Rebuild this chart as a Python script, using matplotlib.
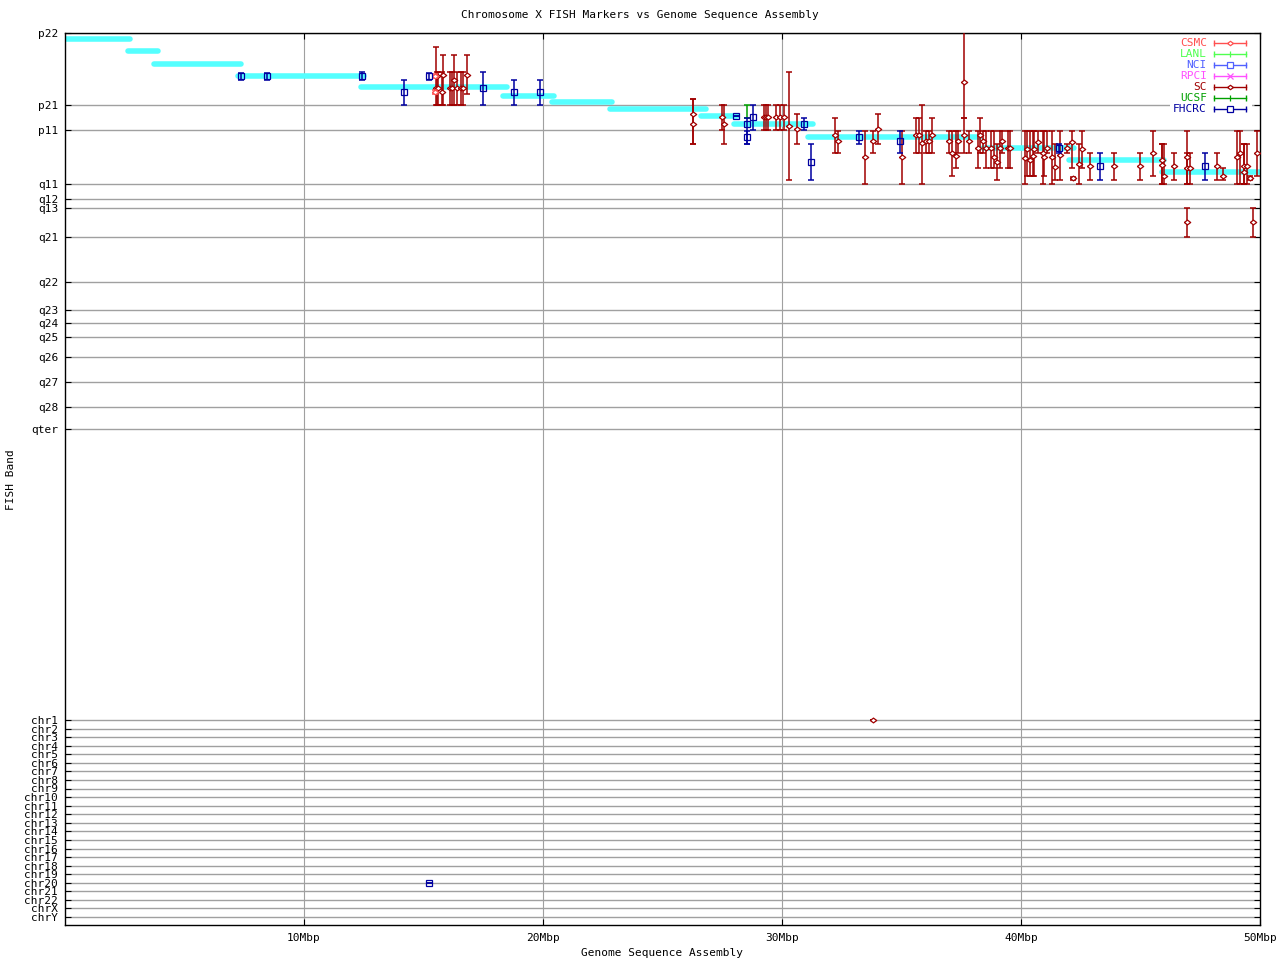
import matplotlib
matplotlib.use('Agg')
import matplotlib.pyplot as plt
from matplotlib.patches import Rectangle

# --- band axis (position along chromosome, p22 at top) ---
band_labels = ['p22', 'p21', 'p11', 'q11', 'q12', 'q13', 'q21', 'q22', 'q23',
               'q24', 'q25', 'q26', 'q27', 'q28', 'qter']
band_pos = [0, 72, 97, 151, 166, 175, 204, 249, 277, 290, 304, 324, 349, 374, 396]

chr_labels = ['chr1', 'chr2', 'chr3', 'chr4', 'chr5', 'chr6', 'chr7', 'chr8',
              'chr9', 'chr10', 'chr11', 'chr12', 'chr13', 'chr14', 'chr15',
              'chr16', 'chr17', 'chr18', 'chr19', 'chr20', 'chr21', 'chr22',
              'chrX', 'chrY']
chr_pos = [687.0, 695.6, 704.1, 712.7, 721.3, 729.8, 738.4, 747.0, 755.5, 764.1,
           772.7, 781.2, 789.8, 798.3, 806.9, 815.5, 824.0, 832.6, 841.2, 849.7,
           858.3, 866.9, 875.4, 884.0]

# --- assembly contigs (cyan) ---
seg_start = [0.0, 2.64, 3.72, 7.24, 12.4, 18.33, 20.36, 22.8, 26.6, 28.0, 31.1, 38.4, 42.0, 45.9]
seg_end = [2.72, 3.89, 7.36, 12.5, 18.48, 20.46, 22.9, 26.8, 28.1, 31.3, 38.3, 42.2, 46.0, 50.0]
seg_y = [6, 18, 31, 43, 54, 63, 69, 76, 83, 91, 104, 115, 127, 139]

# --- SC markers ---
sc_x = [15.52, 15.56, 15.61, 15.77, 15.82, 16.11, 16.19, 16.28, 16.40, 16.57, 16.65, 16.82,
        26.28, 26.28, 27.49, 27.57, 29.25, 29.33, 29.41, 29.75, 29.92, 30.08, 30.29, 30.63,
        32.22, 32.34, 33.47, 33.81, 34.02, 35.02, 35.61, 35.73, 35.86, 36.03, 36.15, 36.28,
        36.99, 37.11, 37.28, 37.36, 37.62, 37.62, 37.82, 38.20, 38.28, 38.41, 38.54, 38.74,
        38.87, 39.00, 39.12, 39.21, 39.46, 39.54, 40.17, 40.25, 40.38, 40.50, 40.54, 40.71,
        40.92, 40.96, 41.09, 41.30, 41.42, 41.63, 41.92, 42.13, 42.18, 42.43, 42.55, 42.89,
        43.89, 44.98, 45.52, 45.90, 45.90, 45.98, 46.40, 46.95, 46.95, 47.07, 48.20, 48.45,
        49.04, 49.16, 49.33, 49.33, 49.46, 49.58, 49.87, 46.95, 49.71, 33.81]
sc_y = [55, 43, 55, 59, 42, 55, 55, 47, 55, 55, 55, 42,
        81, 91, 84, 91, 84, 84, 84, 84, 84, 84, 93, 96,
        102, 108, 124, 108, 96, 124, 102, 102, 110, 108, 108, 102,
        108, 120, 123, 108, 49, 102, 108, 115, 102, 108, 115, 115,
        124, 129, 115, 108, 115, 115, 125, 116, 127, 123, 116, 109,
        120, 124, 115, 124, 134, 122, 115, 109, 145, 131, 116, 133,
        133, 133, 120, 127, 132, 143, 133, 124, 135, 135, 133, 143,
        124, 120, 133, 139, 133, 145, 120, 189, 189, 687]
sc_top = [14, 39, 39, 39, 22, 39, 39, 22, 39, 39, 39, 22,
          66, 66, 72, 72, 72, 72, 72, 72, 72, 72, 39, 81,
          85, 98, 98, 98, 81, 98, 85, 85, 72, 98, 98, 85,
          98, 98, 98, 98, -5, 85, 98, 98, 85, 98, 98, 98,
          98, 111, 98, 98, 98, 98, 98, 98, 98, 98, 98, 98,
          98, 98, 98, 98, 111, 98, 111, 98, 144, 111, 98, 120,
          120, 120, 98, 111, 111, 111, 120, 98, 120, 120, 120, 135,
          98, 98, 111, 111, 111, 143, 98, 175, 175, 687]
sc_bot = [72, 72, 72, 72, 72, 72, 72, 72, 72, 72, 72, 61,
          111, 111, 97, 111, 97, 97, 97, 97, 97, 97, 147, 111,
          120, 120, 151, 120, 111, 151, 120, 120, 151, 120, 120, 120,
          120, 143, 135, 120, 85, 120, 120, 135, 120, 120, 135, 135,
          135, 147, 135, 120, 135, 135, 151, 143, 143, 143, 143, 120,
          151, 143, 120, 151, 147, 147, 120, 135, 147, 151, 135, 147,
          147, 147, 143, 151, 151, 151, 147, 151, 151, 151, 147, 147,
          151, 151, 151, 151, 151, 147, 143, 204, 204, 687]

# --- FHCRC markers ---
fh_x = [7.36, 8.45, 12.43, 14.18, 15.23, 17.49, 18.79, 19.87, 28.08, 28.54, 28.54,
        28.79, 30.92, 31.21, 33.22, 34.94, 41.59, 43.31, 47.70, 15.23]
fh_y = [43, 43, 43, 59, 43, 55, 59, 59, 83, 91, 104,
        84, 91, 129, 104, 108, 115, 133, 133, 849.7]
fh_top = [40, 40, 39, 47, 40, 39, 47, 47, 83, 85, 98,
          72, 85, 111, 98, 98, 111, 120, 120, 849.7]
fh_bot = [47, 47, 47, 72, 47, 72, 72, 72, 83, 111, 111,
          97, 97, 147, 111, 120, 120, 147, 147, 849.7]

# --- CSMC and UCSF markers ---
cs_x = [15.48, 15.48]
cs_y = [43, 59]
cs_top = [41, 57]
cs_bot = [45, 61]

uc_x = [28.54]
uc_y = [79]
uc_top = [72]
uc_bot = [85]

# legend entries: name, colour, marker
leg_names = ['CSMC', 'LANL', 'NCI', 'RPCI', 'SC', 'UCSF', 'FHCRC']
leg_colors = ['#ff5050', '#50ff50', '#5060ff', '#ff50ff', '#a00000', '#00a000', '#0000a0']

# flat diamond like the gnuplot point
diam = [(-1, 0), (0, 0.75), (1, 0), (0, -0.75), (-1, 0)]
leg_markers = [diam, '|', 's', 'x', diam, '|', 's']

plt.rcParams['font.family'] = 'DejaVu Sans Mono'
plt.rcParams['font.size'] = 8

fig = plt.figure(figsize=(12.8, 9.6), dpi=100)
ax = fig.add_axes([65 / 1280, 35 / 960, 1195 / 1280, 892 / 960])
ax.set_xlim(0, 50)
ax.set_ylim(892, 0)

grid_c = '#a0a0a0'
for p in band_pos + chr_pos:
    ax.axhline(p, color=grid_c, lw=1.0, zorder=0)
for xv in [10, 20, 30, 40]:
    ax.axvline(xv, color=grid_c, lw=0.8, zorder=0)

# contigs
for s, e, yv in zip(seg_start, seg_end, seg_y):
    ax.plot([s, e], [yv, yv], color='#55ffff', lw=4.0, solid_capstyle='round', zorder=1)


def draw(xs, ys, tops, bots, color, marker, ms, fill):
    lo = [yv - t for yv, t in zip(ys, tops)]
    hi = [b - yv for yv, b in zip(ys, bots)]
    ax.errorbar(xs, ys, yerr=[lo, hi], fmt='none', ecolor=color,
                elinewidth=1.1, capsize=2.3, capthick=1.1, zorder=3)
    if marker is not None:
        ax.plot(xs, ys, ls='none', marker=marker, color=color, mfc=fill,
                ms=ms, mew=0.9, zorder=3)


draw(sc_x, sc_y, sc_top, sc_bot, '#a00000', diam, 4.6, 'white')
draw(cs_x, cs_y, cs_top, cs_bot, '#ff5050', diam, 4.6, 'white')
draw(uc_x, uc_y, uc_top, uc_bot, '#00a000', None, 3, 'none')
draw(fh_x, fh_y, fh_top, fh_bot, '#0000a0', 's', 3.8, 'none')

# ticks
ax.set_yticks(band_pos + chr_pos)
ax.set_yticklabels(band_labels + chr_labels)
ax.set_xticks([10, 20, 30, 40, 50])
ax.set_xticklabels(['10Mbp', '20Mbp', '30Mbp', '40Mbp', '50Mbp'])
ax.tick_params(direction='in', length=4.5, width=0.8, top=True, right=True,
               labelsize=8, pad=5)
ax.tick_params(axis='x', pad=6)
for sp in ax.spines.values():
    sp.set_linewidth(1.0)

# legend drawn in axes fraction
ax.add_patch(Rectangle((0.9247, 0.9092), 0.0686, 0.0874, transform=ax.transAxes,
                       facecolor='white', edgecolor='none', zorder=4))
for i, (nm, c, mk) in enumerate(zip(leg_names, leg_colors, leg_markers)):
    yy = 0.9891 - i * 0.01233
    ax.text(0.9556, yy, nm, color=c, ha='right', va='center', fontsize=8,
            transform=ax.transAxes, zorder=5)
    ax.plot([0.9615, 0.9883], [yy, yy], color=c, lw=1.0, transform=ax.transAxes, zorder=5)
    for xe in [0.9615, 0.9883]:
        ax.plot([xe], [yy], marker='|', ms=5, mew=1.0, color=c,
                transform=ax.transAxes, zorder=5)
    ax.plot([0.9749], [yy], marker=mk, ms=5 if mk == '|' else 4.2, mfc='white', mew=0.9,
            color=c, transform=ax.transAxes, zorder=5)

fig.text(0.5, 1 - 15 / 960, 'Chromosome X FISH Markers vs Genome Sequence Assembly',
         ha='center', va='center', fontsize=8)
fig.text(662 / 1280, 1 - 953 / 960, 'Genome Sequence Assembly', ha='center', va='center',
         fontsize=8)
fig.text(11 / 1280, 0.5, 'FISH Band', rotation=90, ha='center', va='center', fontsize=8)

fig.savefig('out.png', dpi=100)
